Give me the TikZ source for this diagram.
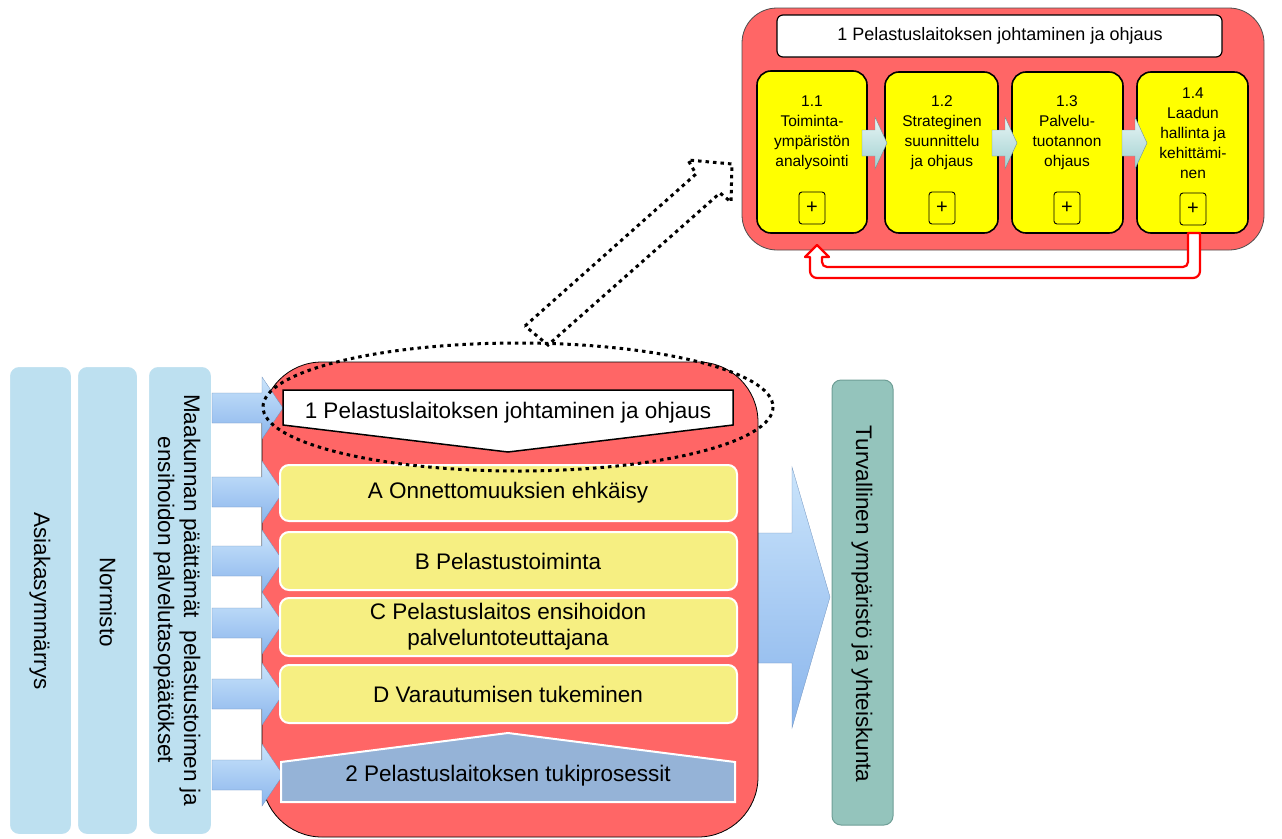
\documentclass[tikz,border=0pt]{standalone}
\usepackage{fontspec}
\setmainfont{Liberation Sans}
\definecolor{redbg}{RGB}{255,102,102}
\definecolor{colblue}{RGB}{189,224,240}
\definecolor{paleyellow}{RGB}{246,239,130}
\definecolor{tukiblue}{RGB}{149,179,215}
\definecolor{turqfill}{RGB}{148,196,188}
\definecolor{turqline}{RGB}{110,158,150}
\definecolor{arrowtop}{RGB}{202,228,251}
\definecolor{arrowbot}{RGB}{138,181,236}
\definecolor{smalltop}{RGB}{232,245,245}
\definecolor{smallbot}{RGB}{160,208,208}
\definecolor{brightyellow}{RGB}{255,255,0}
\begin{document}
\begin{tikzpicture}[x=1pt,y=-1pt,
  bigfont/.style={font=\fontsize{22.5}{26}\selectfont},
  midfont/.style={font=\fontsize{18}{22}\selectfont},
  smallfont/.style={font=\fontsize{15.5}{20}\selectfont},
  colbox/.style={fill=colblue,draw=white,line width=2pt,rounded corners=10pt},
  bluearrow/.style={top color=arrowtop,bottom color=arrowbot,draw=arrowbot!80!black,line width=0.3pt},
  smallarrow/.style={top color=smalltop,bottom color=smallbot,draw=smallbot!70!black,line width=0.4pt},
  itembox/.style={fill=paleyellow,draw=white,line width=2pt,rounded corners=9pt},
  procbox/.style={fill=brightyellow,draw=black,line width=1.6pt,rounded corners=14pt},
  plusbox/.style={draw=black,line width=0.9pt,rounded corners=3pt,minimum width=26pt,minimum height=32pt,inner sep=0pt,font=\fontsize{20}{22}\selectfont},
  dotline/.style={draw=black,line width=3pt,dash pattern=on 3.5pt off 4pt}
]
\useasboundingbox (0,0) rectangle (1282,838);

% left columns
\draw[colbox] (9,366) rectangle (72,835);
\draw[colbox] (77,366) rectangle (138,835);
\draw[colbox] (148,366) rectangle (212,835);
\node[bigfont,rotate=-90] (asiakas) at (40,601) {Asiakasymmärrys};
\node[bigfont,rotate=-90] (normisto) at (108,602) {Normisto};
\node[bigfont,rotate=-90,align=center] (maakunta) at (177,600) {Maakunnan päättämät\ \ pelastustoimen ja\\ensihoidon palvelutasopäätökset};

% big arrow to the right
\path[bluearrow] (740,533) -- (792,533) -- (792,467) -- (830,597) -- (792,728) -- (792,663) -- (740,663) -- cycle;

% big red box
\draw[fill=redbg,draw=black,line width=0.8pt,rounded corners=60pt] (262,362) rectangle (758,837);

% input arrows
\foreach \yy in {408,492,561,623,694,775} {
  \path[bluearrow] (212,\yy-15) -- (262,\yy-15) -- (262,\yy-31) -- (283,\yy) -- (262,\yy+31) -- (262,\yy+15) -- (212,\yy+15) -- cycle;
}

% header pentagon
\draw[fill=white,draw=black,line width=1.5pt] (283,390) -- (733,390) -- (733,425) -- (508,452) -- (283,425) -- cycle;
\node[bigfont] (header) at (508,413) {1 Pelastuslaitoksen johtaminen ja ohjaus};

% item boxes
\draw[itembox] (280,465) rectangle (737,521);
\node[bigfont] (itemA) at (508,493) {A Onnettomuuksien ehkäisy};
\draw[itembox] (280,532) rectangle (737,590);
\node[bigfont] (itemB) at (508,561) {B Pelastustoiminta};
\draw[itembox] (280,598) rectangle (737,656);
\node[bigfont,align=center] (itemC) at (508,627) {C Pelastuslaitos ensihoidon\\palveluntoteuttajana};
\draw[itembox] (280,665) rectangle (737,723);
\node[bigfont] (itemD) at (508,694) {D Varautumisen tukeminen};

% support pentagon
\draw[fill=tukiblue,draw=white,line width=2pt] (281,802) -- (281,762) -- (508,733) -- (735,762) -- (735,802) -- cycle;
\node[bigfont] (tuki) at (508,776) {2 Pelastuslaitoksen tukiprosessit};

% outcome column
\draw[fill=turqfill,draw=turqline,line width=1pt,rounded corners=9pt] (832,380) rectangle (893,825);
\node[bigfont,rotate=-90] (turva) at (862,604) {Turvallinen ympäristö ja yhteiskunta};

% dotted ellipse and dotted arrow
\draw[dotline] (518,407) ellipse [x radius=255, y radius=64];
\draw[dotline] (525,326) -- (696,174) -- (688,160) -- (732,164) -- (731,202) -- (720,193) -- (548,345) -- cycle;

% top right detail box
\draw[fill=redbg,draw=black!70,line width=0.8pt,rounded corners=35pt] (742,8) rectangle (1264,250);
\draw[fill=white,draw=black,line width=1.2pt,rounded corners=6pt] (777,15) rectangle (1222,57);
\node[midfont] (dhead) at (1000,36) {1 Pelastuslaitoksen johtaminen ja ohjaus};

\draw[procbox] (757,71) rectangle (867,233);
\draw[procbox] (885,72) rectangle (998,233);
\draw[procbox] (1012,72) rectangle (1123,233);
\draw[procbox] (1137,72) rectangle (1248,233);

\foreach \xx in {862,992,1122} {
  \path[smallarrow] (\xx,130) -- (\xx+13,130) -- (\xx+13,117) -- (\xx+25,143) -- (\xx+13,169) -- (\xx+13,156) -- (\xx,156) -- cycle;
}

\node[smallfont,align=center] (p11) at (812,133) {1.1\\Toiminta-\\ympäristön\\analysointi};
\node[smallfont,align=center] (p12) at (942,133) {1.2\\Strateginen\\suunnittelu\\ja ohjaus};
\node[smallfont,align=center] (p13) at (1067,133) {1.3\\Palvelu-\\tuotannon\\ohjaus};
\node[smallfont,align=center] (p14) at (1193,133) {1.4\\Laadun\\hallinta ja\\kehittämi-\\nen};

\node[plusbox] (plus1) at (812,208) {+};
\node[plusbox] (plus2) at (942,208) {+};
\node[plusbox] (plus3) at (1067,208) {+};
\node[plusbox] (plus4) at (1193,209) {+};

% feedback arrow
\draw[fill=white,draw=red,line width=2.2pt,line join=round]
  (1188,233) [rounded corners=5pt] -- (1188,267) -- (822,267) [sharp corners] -- (822,257) -- (829,257) -- (817,245) -- (805,257) -- (810,257) [rounded corners=7pt] -- (810,278) -- (1200,278) [sharp corners] -- (1200,233) -- cycle;

\end{tikzpicture}
\end{document}
